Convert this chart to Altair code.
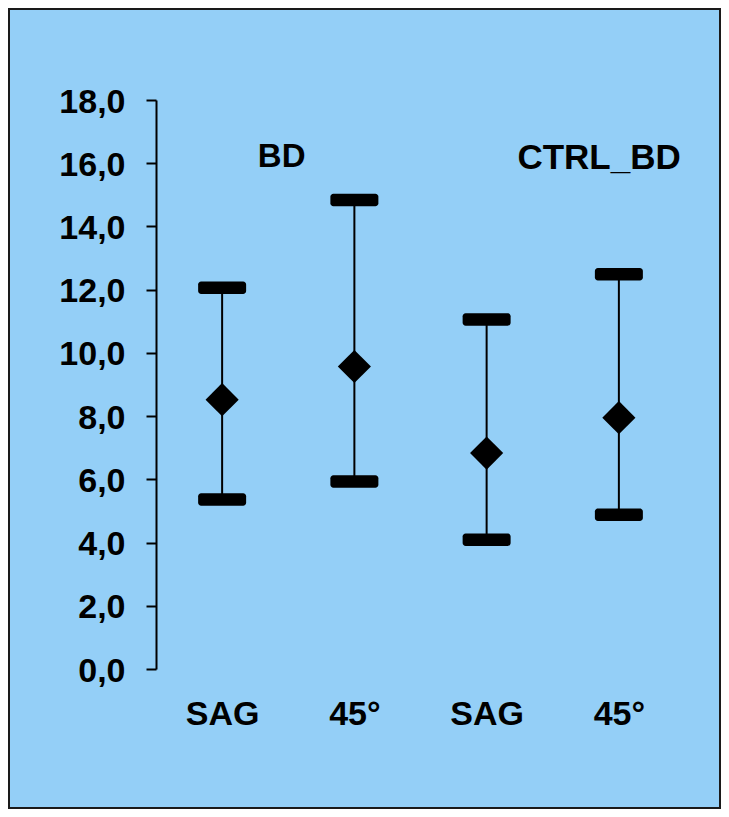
import altair as alt
import pandas as pd

# Data
positions = [1, 2, 3, 4]
tick_labels = ["SAG", "45°", "SAG", "45°"]
means = [8.52, 9.57, 6.83, 7.95]
highs = [12.06, 14.84, 11.06, 12.49]
lows = [5.36, 5.93, 4.09, 4.88]

group_labels = ["BD", "CTRL_BD"]
group_x = [1.45, 3.85]
group_y = [16.2, 16.15]

FONT = "Liberation Sans"
BG = "#94CFF7"

df = pd.DataFrame({"pos": positions, "label": tick_labels,
                   "mean": means, "high": highs, "low": lows})
caps = pd.DataFrame({"pos": positions * 2, "v": highs + lows})
gdf = pd.DataFrame({"x": group_x, "y": group_y, "t": group_labels})

label_arr = "[" + ",".join("'" + s + "'" for s in tick_labels) + "]"

xscale = alt.Scale(domain=[0.5, 4.5], nice=False, zero=False)
yscale = alt.Scale(domain=[0, 18], nice=False)

xaxis = alt.Axis(values=positions, labelExpr=label_arr + "[datum.value-1]",
                 ticks=False, tickSize=0, domain=False, grid=False, title=None,
                 labelFont=FONT, labelFontSize=34, labelFontWeight="bold",
                 labelColor="black", labelPadding=28, labelBaseline="top")
yaxis = alt.Axis(values=[0, 2, 4, 6, 8, 10, 12, 14, 16, 18],
                 labelExpr="replace(format(datum.value, '.1f'), '.', ',')",
                 tickSize=10, tickWidth=2, tickColor="black",
                 domainColor="black", domainWidth=2, grid=False, title=None,
                 labelFont=FONT, labelFontSize=34, labelFontWeight="bold",
                 labelColor="black", labelPadding=21, labelOffset=2)

base = alt.Chart(df)

whisker = base.mark_rule(color="black", strokeWidth=2).encode(
    x=alt.X("pos:Q", scale=xscale, axis=xaxis),
    y=alt.Y("low:Q", scale=yscale, axis=yaxis),
    y2="high:Q",
)

cap = alt.Chart(caps).mark_tick(orient="horizontal", color="black", size=48,
                                thickness=12.5, cornerRadius=3, opacity=1).encode(
    x=alt.X("pos:Q", scale=xscale),
    y=alt.Y("v:Q", scale=yscale),
)

diamond = base.mark_point(shape="diamond", filled=True, size=1100,
                          color="black", opacity=1).encode(
    x=alt.X("pos:Q", scale=xscale),
    y=alt.Y("mean:Q", scale=yscale),
)

gtext_bd = alt.Chart(gdf).transform_filter(alt.datum.t == group_labels[0]).mark_text(
    font=FONT, fontSize=33, fontWeight="bold", color="black",
    align="center", baseline="middle").encode(
    x=alt.X("x:Q", scale=xscale),
    y=alt.Y("y:Q", scale=yscale),
    text="t:N",
)
gtext_ctrl = alt.Chart(gdf).transform_filter(alt.datum.t == group_labels[1]).mark_text(
    font=FONT, fontSize=35, fontWeight="bold", color="black",
    align="center", baseline="middle").encode(
    x=alt.X("x:Q", scale=xscale),
    y=alt.Y("y:Q", scale=yscale),
    text="t:N",
)

border = alt.Chart(pd.DataFrame({"a": [0]})).mark_rect(
    fill=None, stroke="#1a1a1a", strokeWidth=2).encode(
    x=alt.value(-147), x2=alt.value(564), y=alt.value(-91), y2=alt.value(708))

chart = alt.layer(border, whisker, cap, diamond, gtext_bd, gtext_ctrl).properties(
    width=529, height=569,
    background=BG,
    autosize=alt.AutoSizeParams(type="none"),
    padding={"left": 148, "top": 92, "right": 36, "bottom": 140},
).configure_view(stroke=None)

chart.save("out.html", embed_options={"renderer": "svg", "actions": False})
